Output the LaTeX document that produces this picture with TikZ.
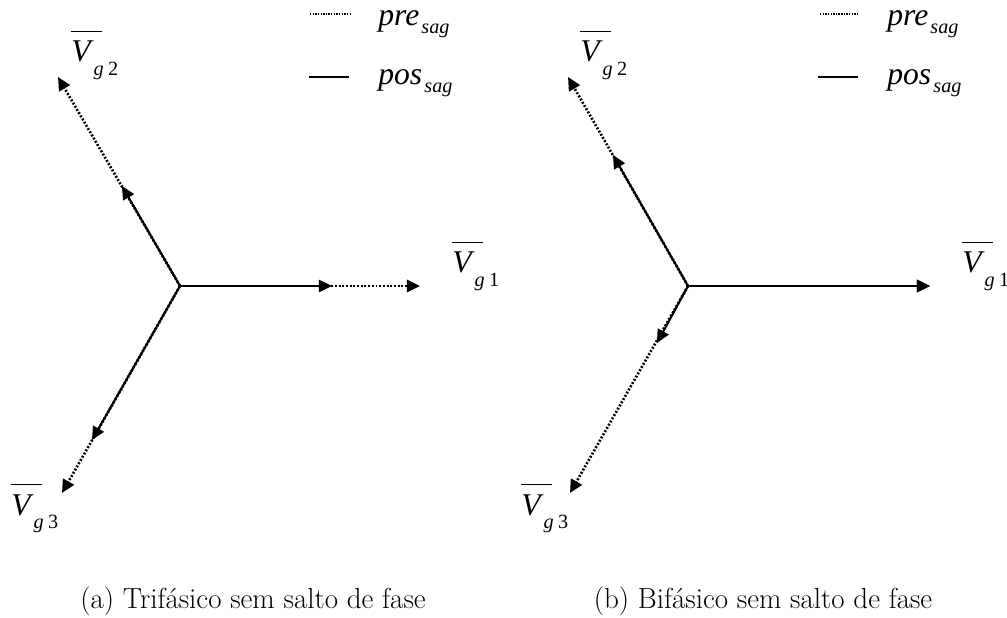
\documentclass[tikz,border=0pt]{standalone}
\usepackage{fontspec}
\newfontfamily\timesf{Liberation Serif}[ItalicFont={Liberation Serif Italic}]
\usetikzlibrary{arrows.meta}

% phasor label and legend text in Times
\newcommand{\phasor}[1]{\rlap{\rule[17pt]{17.5pt}{0.55pt}}\textit{V}\raisebox{-7.6pt}{\fontsize{11.5}{12}\selectfont\textit{g}\hspace{2.4pt}#1}}
\newcommand{\sagtxt}[1]{\textit{#1}\hspace{1.2pt}\raisebox{-4.2pt}{\fontsize{11.5}{12}\selectfont\textit{sag}}}

\begin{document}
\begin{tikzpicture}[x=0.02cm, y=-0.02cm,
    every node/.style={inner sep=0pt},
    lbl/.style={font=\timesf\fontsize{18}{21}\selectfont, anchor=base west},
    subcap/.style={font=\fontsize{16.5}{19}\selectfont, anchor=base},
    presag/.style={line width=1.5pt, dash pattern=on 1.1pt off 1pt, -{Triangle[length=7.5pt, width=7pt]}},
    possag/.style={line width=1.15pt, -{Triangle[length=7.5pt, width=7pt]}}]
  \useasboundingbox (0,0) rectangle (1007,618);
  % --- (a) three-phase sag ---
  \coordinate (Oa) at (180,286);
  \coordinate (a1pre) at (420,286);
  \coordinate (a1pos) at (332,286);
  \coordinate (a2pre) at (58,77);
  \coordinate (a2pos) at (122,186);
  \coordinate (a3pre) at (62,493);
  \coordinate (a3pos) at (92,440);
  \draw[presag] (Oa) -- (a1pre);
  \draw[presag] (Oa) -- (a2pre);
  \draw[presag] (Oa) -- (a3pre);
  \draw[possag] (Oa) -- (a1pos);
  \draw[possag] (Oa) -- (a2pos);
  \draw[possag] (Oa) -- (a3pos);
  \node[lbl] (a1lbl) at (452,273) {\phasor{1}};
  \node[lbl] (a2lbl) at (71,62) {\phasor{2}};
  \node[lbl] (a3lbl) at (11,515) {\phasor{3}};
  % legend
  \coordinate (apreL) at (310,14);
  \coordinate (apreR) at (350,14);
  \coordinate (aposL) at (309,77);
  \coordinate (aposR) at (349,77);
  \draw[line width=1.1pt, dash pattern=on 0.8pt off 0.7pt] (apreL) -- (apreR);
  \draw[line width=1.3pt] (aposL) -- (aposR);
  \node[lbl] (apretxt) at (378,26) {\sagtxt{pre}};
  \node[lbl] (apostxt) at (378,85) {\sagtxt{pos}};
  \node[subcap] (acap) at (253,608) {(a) Trifásico sem salto de fase};
  % --- (b) two-phase sag ---
  \coordinate (Ob) at (688,286);
  \coordinate (b1) at (930,286);
  \coordinate (b2pre) at (568,77);
  \coordinate (b2pos) at (613,155);
  \coordinate (b3pre) at (570,493);
  \coordinate (b3pos) at (657,343);
  \draw[presag] (Ob) -- (b1);
  \draw[presag] (Ob) -- (b2pre);
  \draw[presag] (Ob) -- (b3pre);
  \draw[possag] (Ob) -- (b1);
  \draw[possag] (Ob) -- (b2pos);
  \draw[possag] (Ob) -- (b3pos);
  \node[lbl] (b1lbl) at (962,273) {\phasor{1}};
  \node[lbl] (b2lbl) at (580,62) {\phasor{2}};
  \node[lbl] (b3lbl) at (521,515) {\phasor{3}};
  % legend
  \coordinate (bpreL) at (820,14);
  \coordinate (bpreR) at (859,14);
  \coordinate (bposL) at (818,77);
  \coordinate (bposR) at (858,77);
  \draw[line width=1.1pt, dash pattern=on 0.8pt off 0.7pt] (bpreL) -- (bpreR);
  \draw[line width=1.3pt] (bposL) -- (bposR);
  \node[lbl] (bpretxt) at (887,26) {\sagtxt{pre}};
  \node[lbl] (bpostxt) at (887,85) {\sagtxt{pos}};
  \node[subcap] (bcap) at (763,608) {(b) Bifásico sem salto de fase};
\end{tikzpicture}
\end{document}
